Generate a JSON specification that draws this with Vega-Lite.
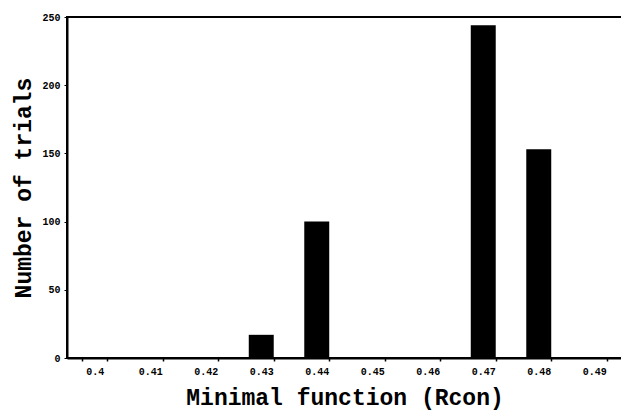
{
  "$schema": "https://vega.github.io/schema/vega-lite/v6.json",
  "width": 555,
  "height": 341,
  "autosize": {"type": "none"},
  "padding": {"left": 67, "top": 17, "right": 0, "bottom": 53},
  "background": "white",
  "config": {
    "view": {"stroke": "black", "strokeWidth": 2},
    "font": "Liberation Mono"
  },
  "data": {
    "values": [
      {"rcon": "0.4", "trials": 0},
      {"rcon": "0.41", "trials": 0},
      {"rcon": "0.42", "trials": 0},
      {"rcon": "0.43", "trials": 17},
      {"rcon": "0.44", "trials": 100},
      {"rcon": "0.45", "trials": 0},
      {"rcon": "0.46", "trials": 0},
      {"rcon": "0.47", "trials": 244},
      {"rcon": "0.48", "trials": 153},
      {"rcon": "0.49", "trials": 0}
    ]
  },
  "mark": {"type": "bar", "color": "black"},
  "encoding": {
    "x": {
      "field": "rcon",
      "type": "nominal",
      "sort": null,
      "scale": {"paddingInner": 0.55, "paddingOuter": 0.275},
      "axis": {
        "title": "Minimal function (Rcon)",
        "titleFont": "Liberation Mono",
        "titleFontSize": 23,
        "titleFontWeight": "bold",
        "titleColor": "black",
        "titlePadding": 10,
        "labelAngle": 0,
        "labelFont": "Liberation Mono",
        "labelFontSize": 10,
        "labelFontWeight": "bold",
        "labelColor": "black",
        "labelPadding": 5,
        "tickBand": "extent",
        "tickSize": 3,
        "tickColor": "black",
        "tickWidth": 1.5,
        "domainColor": "black",
        "domainWidth": 2,
        "grid": false
      }
    },
    "y": {
      "field": "trials",
      "type": "quantitative",
      "scale": {"domain": [0, 250], "nice": false},
      "axis": {
        "title": "Number of trials",
        "titleFont": "Liberation Mono",
        "titleFontSize": 23,
        "titleFontWeight": "bold",
        "titleColor": "black",
        "titlePadding": 6,
        "values": [0, 50, 100, 150, 200, 250],
        "labelFont": "Liberation Mono",
        "labelFontSize": 10,
        "labelFontWeight": "bold",
        "labelColor": "black",
        "labelPadding": 4,
        "tickSize": 3,
        "tickColor": "black",
        "domainColor": "black",
        "domainWidth": 2,
        "grid": false
      }
    }
  }
}
